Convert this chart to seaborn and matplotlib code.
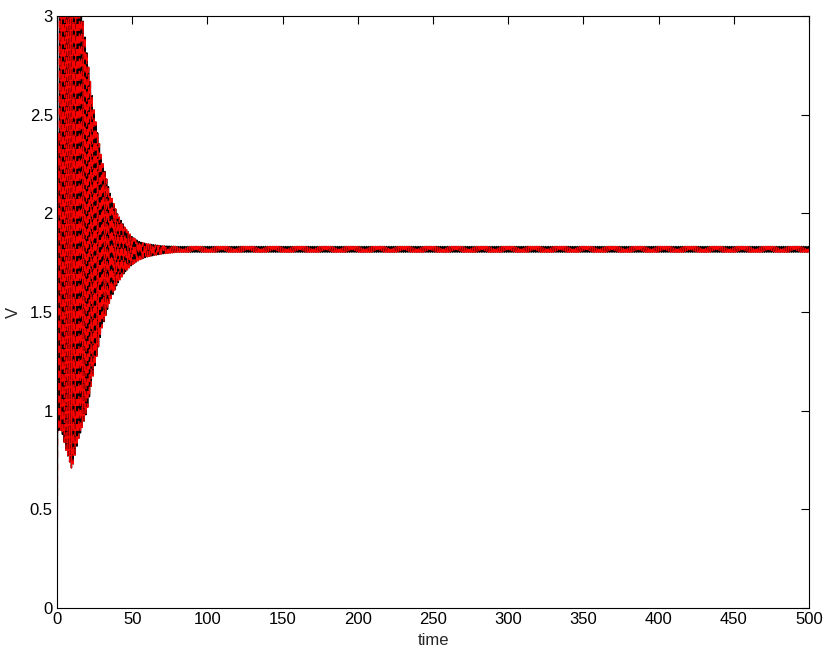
import numpy as np
import pandas as pd
import matplotlib
matplotlib.use("Agg")
import matplotlib.pyplot as plt
import seaborn as sns

# Envelope of the oscillation
env_time = [0, 1, 3, 6, 10, 14, 17, 20, 25, 30, 35, 40, 45, 50, 55, 60, 70, 80, 500]
env_upper = [0.0, 3.6, 3.6, 3.6, 3.6, 3.3, 3.0, 2.8, 2.5, 2.27, 2.11, 2.0, 1.93, 1.88, 1.855, 1.845, 1.835, 1.832, 1.832]
env_lower = [0.0, 0.9, 0.9, 0.8, 0.7, 0.85, 0.92, 1.0, 1.22, 1.42, 1.55, 1.64, 1.70, 1.74, 1.765, 1.78, 1.795, 1.803, 1.803]
period = 1.2

x_ticks = [0, 50, 100, 150, 200, 250, 300, 350, 400, 450, 500]
y_ticks = [0, 0.5, 1, 1.5, 2, 2.5, 3]
y_tick_labels = ["0", "0.5", "1", "1.5", "2", "2.5", "3"]

t = np.arange(0, 500.0001, 0.04)
up = np.interp(t, env_time, env_upper)
lo = np.interp(t, env_time, env_lower)
mid = (up + lo) / 2
half = (up - lo) / 2
v = mid - half * np.cos(2 * np.pi * t / period)
df = pd.DataFrame({"time": t, "V": v})

sns.set_style("white")
plt.rcParams["font.family"] = ["Liberation Sans", "DejaVu Sans"]

fig = plt.figure(figsize=(8.3, 6.56), dpi=100)
ax = fig.add_axes([57 / 830, 1 - 608 / 656, (809 - 57) / 830, (608 - 16) / 656])

sns.lineplot(data=df, x="time", y="V", ax=ax, color="black", linewidth=1.0,
             estimator=None, sort=False)
sns.lineplot(data=df, x="time", y="V", ax=ax, color="red", linewidth=1.0,
             estimator=None, sort=False, dashes=False, linestyle=(0, (5, 4)))

ax.set_xlim(0, 500)
ax.set_ylim(0, 3)
ax.set_xticks(x_ticks)
ax.set_yticks(y_ticks)
ax.set_yticklabels(y_tick_labels)
ax.set_xlabel("time", fontsize=12, labelpad=4)
ax.set_ylabel("V", fontsize=12, labelpad=6)
ax.tick_params(direction="in", top=True, right=True, length=6, width=0.8,
               labelsize=12, pad=3, colors="black")
for s in ax.spines.values():
    s.set_visible(True)
    s.set_color("black")
    s.set_linewidth(0.8)

fig.savefig("out.png", dpi=100)
